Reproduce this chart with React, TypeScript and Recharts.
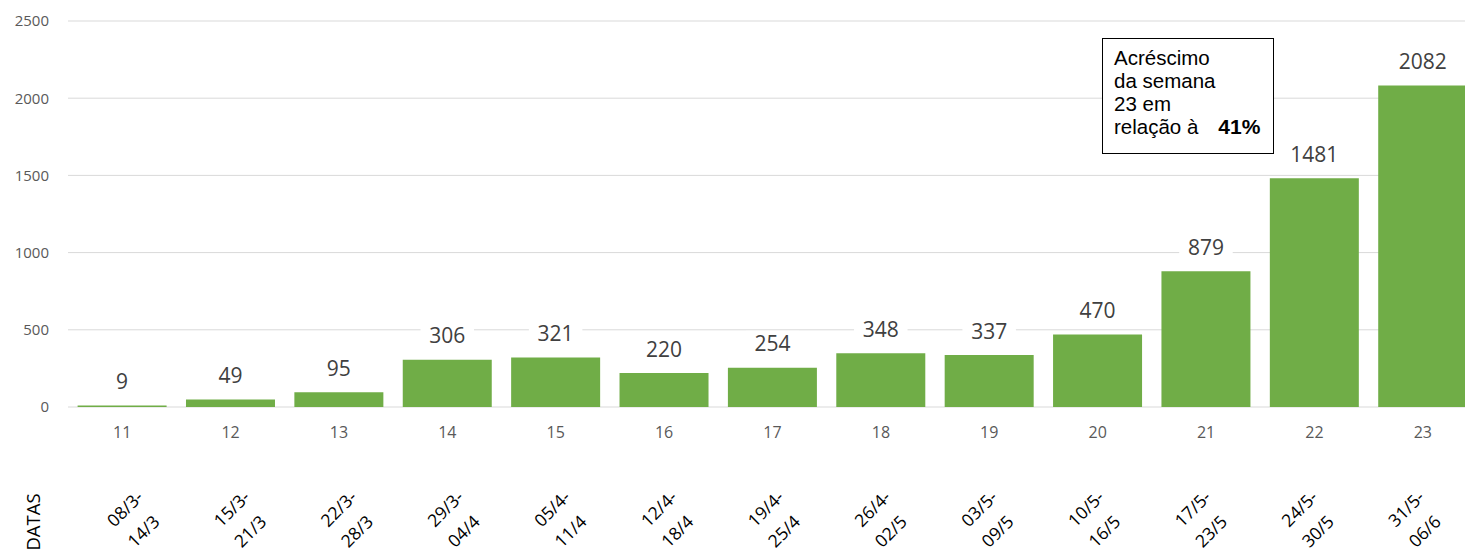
import React from 'react';
import { BarChart, Bar, XAxis, YAxis, CartesianGrid, LabelList } from 'recharts';

const semanas = ['11', '12', '13', '14', '15', '16', '17', '18', '19', '20', '21', '22', '23'];
const casos = [9, 49, 95, 306, 321, 220, 254, 348, 337, 470, 879, 1481, 2082];
const periodos = [
  '08/3-14/3', '15/3-21/3', '22/3-28/3', '29/3-04/4', '05/4-11/4', '12/4-18/4', '19/4-25/4',
  '26/4-02/5', '03/5-09/5', '10/5-16/5', '17/5-23/5', '24/5-30/5', '31/5-06/6',
];
const yTicks = [0, 500, 1000, 1500, 2000, 2500];
const anotacaoLinhas = ['Acréscimo', 'da semana', '23 em', 'relação à'];
const anotacaoValor = '41%';

const data = semanas.map((s, i) => ({ semana: s, periodo: periodos[i], casos: casos[i] }));

const FONT = '"Open Sans", sans-serif';

const BarLabel = (props: any) => {
  const { x, y, width, value } = props;
  const cx = Number(x) + Number(width) / 2;
  const cy = Number(y) - 24;
  const w = String(value).length * 12.5 + 16;
  return (
    <g>
      <rect x={cx - w / 2} y={cy - 13} width={w} height={26} fill="#ffffff" />
      <text x={cx} y={cy} dy="0.36em" textAnchor="middle" fontSize={21} fill="#404040" fontFamily={FONT}>
        {value}
      </text>
    </g>
  );
};

const DateTick = (props: any) => {
  const { x, y, payload } = props;
  const parts = String(payload.value).split('-');
  return (
    <g transform={`translate(${x},${y + 72}) rotate(-45)`}>
      <text textAnchor="middle" fontSize={17.5} fontFamily={FONT} fill="#000000">
        <tspan x={0} y={-14.5} dy="0.35em">{parts[0] + '-'}</tspan>
        <tspan x={-3} y={14.5} dy="0.35em">{parts[1]}</tspan>
      </text>
    </g>
  );
};

const DatasLabel = (props: any) => {
  const vb = props.viewBox || { x: 0, y: 0 };
  const cx = vb.x - 34;
  const cy = vb.y + 75;
  return (
    <text x={cx} y={cy} transform={`rotate(-90, ${cx}, ${cy})`} textAnchor="middle" dy="0.35em" fontSize={18.5} fontFamily={FONT} fill="#000000">
      DATAS
    </text>
  );
};

export default function App() {
  return (
    <div style={{ position: 'absolute', left: 0, top: 0, width: 1465, height: 555, overflow: 'hidden', background: '#ffffff' }}>
      <BarChart
        width={1477}
        height={555}
        data={data}
        margin={{ top: 21, right: 0, bottom: 0, left: 0 }}
        barCategoryGap={9.6}
      >
        <CartesianGrid xAxisId="a_semana" vertical={false} stroke="#d9d9d9" strokeWidth={1} />
        <YAxis
          domain={[0, 2500]}
          ticks={yTicks}
          axisLine={false}
          tickLine={false}
          tickMargin={13}
          width={68}
          tick={{ fontSize: 15, fill: '#595959', fontFamily: FONT }}
        />
        <XAxis
          xAxisId="a_semana"
          dataKey="semana"
          interval={0}
          axisLine={false}
          tickLine={false}
          tickMargin={14}
          height={40}
          tick={{ fontSize: 16, fill: '#595959', fontFamily: FONT }}
        />
        <XAxis
          xAxisId="b_datas"
          dataKey="periodo"
          interval={0}
          axisLine={false}
          tickLine={false}
          tickSize={0}
          tickMargin={0}
          height={108}
          padding={{ left: 14, right: 7 }}
          tick={<DateTick />}
          label={<DatasLabel />}
        />
        <Bar xAxisId="a_semana" dataKey="casos" fill="#70ad47" isAnimationActive={false}>
          <LabelList dataKey="casos" content={<BarLabel />} />
        </Bar>
      </BarChart>
      <div
        style={{
          position: 'absolute',
          left: 1102,
          top: 38,
          width: 172,
          height: 116,
          boxSizing: 'border-box',
          border: '1.5px solid #000000',
          background: '#ffffff',
          padding: '7px 0 0 11px',
          fontFamily: '"Liberation Sans", Arial, sans-serif',
          fontSize: 20.5,
          lineHeight: '23px',
          color: '#000000',
        }}
      >
        {anotacaoLinhas.map((l, i) => (
          <div key={i} style={{ whiteSpace: 'nowrap' }}>
            {l}
            {i === anotacaoLinhas.length - 1 ? (
              <span style={{ fontWeight: 'bold', fontSize: 21, marginLeft: 20 }}>{anotacaoValor}</span>
            ) : null}
          </div>
        ))}
      </div>
    </div>
  );
}
